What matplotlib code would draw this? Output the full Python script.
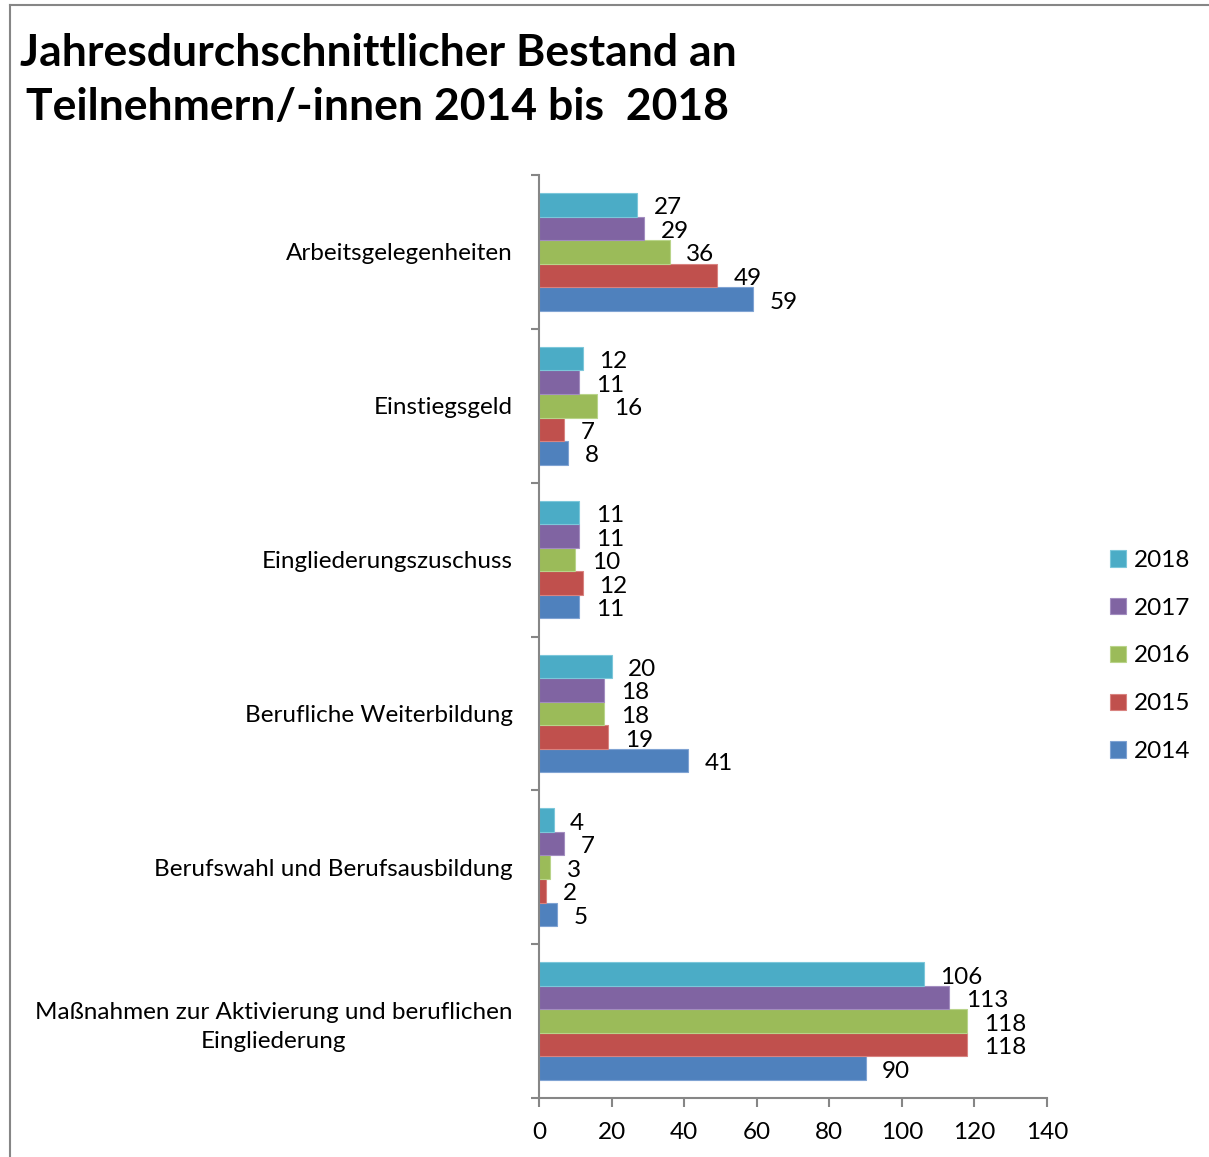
import matplotlib
matplotlib.use("Agg")
import matplotlib.pyplot as plt
from matplotlib.lines import Line2D
import numpy as np

plt.rcParams['font.family'] = ['Lato', 'DejaVu Sans']

categories = [
    "Arbeitsgelegenheiten",
    "Einstiegsgeld",
    "Eingliederungszuschuss",
    "Berufliche Weiterbildung",
    "Berufswahl und Berufsausbildung",
    "Maßnahmen zur Aktivierung und beruflichen\nEingliederung",
]
years = ["2014", "2015", "2016", "2017", "2018"]
v2014 = [59, 8, 11, 41, 5, 90]
v2015 = [49, 7, 12, 19, 2, 118]
v2016 = [36, 16, 10, 18, 3, 118]
v2017 = [29, 11, 11, 18, 7, 113]
v2018 = [27, 12, 11, 20, 4, 106]
series = [v2014, v2015, v2016, v2017, v2018]
colors = ["#4F81BD", "#C0504D", "#9BBB59", "#8064A2", "#4BACC6"]
edges = ["#7FA3D3", "#D98380", "#B9D48A", "#A38DC0", "#7CC7DA"]
xticks = [0, 20, 40, 60, 80, 100, 120, 140]

W, H = 1209, 1157
fig = plt.figure(figsize=(W / 100, H / 100), dpi=100)
ax = fig.add_axes([539 / W, 1 - 1098 / H, (1047 - 539) / W, (1098 - 175) / H])

FS = 17.5
h = 0.153
y = np.arange(len(categories))
offsets = {"2014": 2 * h, "2015": h, "2016": 0, "2017": -h, "2018": -2 * h}
handles = []
for yr, vals, c, ec in zip(years, series, colors, edges):
    bars = ax.barh(y + offsets[yr], vals, height=h, color=c, edgecolor=ec,
                   linewidth=0.8, label=yr)
    handles.append(bars)
    for b, v in zip(bars, vals):
        ax.annotate(str(v), (v, b.get_y() + b.get_height() / 2),
                    xytext=(12, -2.2), textcoords="offset points",
                    ha="left", va="center", fontsize=FS, color="black")

ax.set_xlim(0, 140)
ax.set_ylim(len(categories) - 0.5, -0.5)
ax.set_xticks(xticks)
ax.set_xticklabels([str(t) for t in xticks])
ax.set_yticks(y)
ax.set_yticklabels(categories, multialignment="center", linespacing=1.45)
ax.set_yticks(np.arange(-0.5, len(categories) + 0.5, 1), minor=True)

gray = "#868686"
for s in ["top", "right"]:
    ax.spines[s].set_visible(False)
for s in ["left", "bottom"]:
    ax.spines[s].set_color(gray)
    ax.spines[s].set_linewidth(1.5)
ax.tick_params(axis="y", which="major", length=0, pad=19, labelsize=FS)
ax.tick_params(axis="y", which="minor", length=6, width=1.5, color=gray, direction="out")
ax.tick_params(axis="x", which="major", length=6.5, width=1.5, color=gray,
               direction="out", pad=11, labelsize=FS)

leg = fig.legend(handles=handles[::-1], labels=years[::-1], loc="center left",
                 bbox_to_anchor=(1110 / W, 1 - 656 / H), frameon=False,
                 fontsize=FS, handlelength=0.65, handleheight=0.65,
                 handletextpad=0.35, labelspacing=1.1, borderpad=0, borderaxespad=0)

fig.text(378 / W, 1 - 80 / H,
         "Jahresdurchschnittlicher Bestand an\nTeilnehmern/-innen 2014 bis  2018",
         ha="center", va="center", fontsize=32, fontweight="bold",
         multialignment="center", linespacing=1.45)

fig.add_artist(Line2D([10 / W, 10 / W], [0, 1 - 5 / H], color=gray, lw=1.5,
                      transform=fig.transFigure))
fig.add_artist(Line2D([10 / W, 1], [1 - 5 / H, 1 - 5 / H], color=gray, lw=1.5,
                      transform=fig.transFigure))

fig.savefig("out.png", dpi=100)
